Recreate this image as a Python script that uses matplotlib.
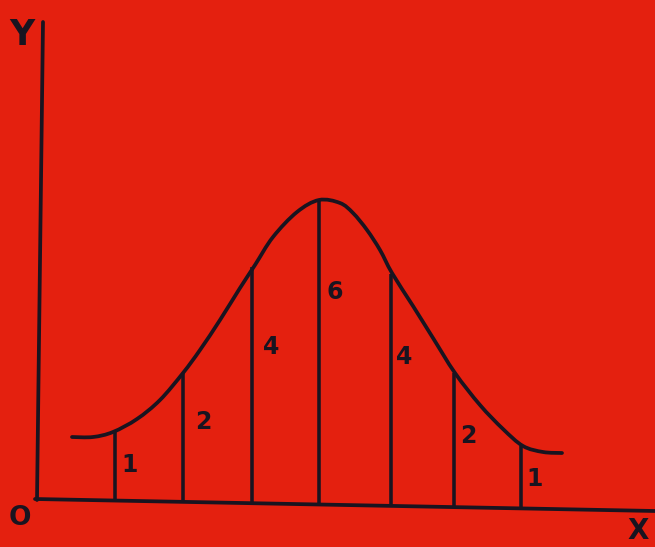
import matplotlib
matplotlib.use("Agg")
import matplotlib.pyplot as plt
from matplotlib.path import Path
from matplotlib.patches import PathPatch
import numpy as np

# ---- data (diagram units: pixel-like coordinates, y downward) ----
curve_x = [72, 93, 113, 137, 160, 183, 200, 220, 240, 255, 273, 297, 319,
           340, 353, 367, 380, 392, 413, 433, 455, 480, 503, 523, 543, 562]
curve_y = [437, 437, 432, 419, 400, 373, 350, 320, 288, 265, 237, 212, 200,
           203, 213, 230, 250, 273, 306, 338, 373, 405, 429, 446, 452, 453]

strip_x = [115, 183, 252, 319, 391, 454, 521]
strip_top = [432, 373, 267, 200, 274, 373, 446]
strip_labels = ["1", "2", "4", "6", "4", "2", "1"]
label_x = [130, 203, 271, 335, 404, 468, 535]
label_y = [465, 422, 347, 292, 357, 436, 479]

xaxis_x = [35, 655]
xaxis_y = [499, 511]
yaxis_x = [43, 37]
yaxis_y = [22, 500]

BG = "#e4200f"
INK = "#191420"


def smooth_path(xs, ys):
    """Catmull-Rom through the given points, rendered as cubic Bezier path."""
    p = np.column_stack([xs, ys]).astype(float)
    verts = [p[0]]
    codes = [Path.MOVETO]
    n = len(p)
    for i in range(n - 1):
        p0 = p[i - 1] if i > 0 else p[i]
        p1, p2 = p[i], p[i + 1]
        p3 = p[i + 2] if i + 2 < n else p[i + 1]
        c1 = p1 + (p2 - p0) / 6.0
        c2 = p2 - (p3 - p1) / 6.0
        verts += [c1, c2, p2]
        codes += [Path.CURVE4] * 3
    return Path(verts, codes)


fig = plt.figure(figsize=(6.55, 5.47), dpi=100, facecolor=BG)
ax = fig.add_axes([0, 0, 1, 1])
ax.set_facecolor(BG)
ax.set_xlim(0, 655)
ax.set_ylim(547, 0)
ax.axis("off")

lw = 2.7
ax.plot(xaxis_x, xaxis_y, color=INK, lw=lw, solid_capstyle="round")
ax.plot(yaxis_x, yaxis_y, color=INK, lw=lw, solid_capstyle="round")
ax.add_patch(PathPatch(smooth_path(curve_x, curve_y), facecolor="none",
                       edgecolor=INK, lw=lw, capstyle="round",
                       joinstyle="round"))

for x, top in zip(strip_x, strip_top):
    bottom = np.interp(x, xaxis_x, xaxis_y)
    ax.plot([x, x], [top, bottom], color=INK, lw=lw * 0.95,
            solid_capstyle="butt")

for t, x, y in zip(strip_labels, label_x, label_y):
    ax.text(x, y, t, color=INK, fontsize=17, fontweight="bold",
            family="DejaVu Sans", ha="center", va="center")

ax.text(22, 35, "Y", color=INK, fontsize=25, fontweight="bold",
        family="DejaVu Sans", ha="center", va="center")
ax.text(20, 518, "O", color=INK, fontsize=19, fontweight="bold",
        family="DejaVu Sans", ha="center", va="center")
ax.text(638, 531, "X", color=INK, fontsize=20, fontweight="bold",
        family="DejaVu Sans", ha="center", va="center")

fig.savefig("out.png", dpi=100, facecolor=BG)
